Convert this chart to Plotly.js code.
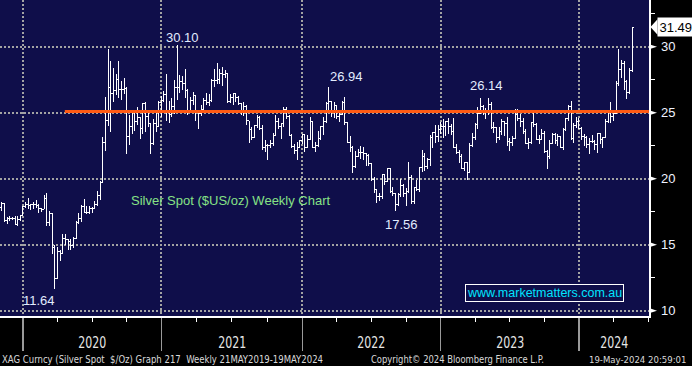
<!DOCTYPE html>
<html><head><meta charset="utf-8">
<script src="https://cdn.plot.ly/plotly-3.0.1.min.js"></script>
<style>html,body{margin:0;padding:0;background:#000;overflow:hidden}#chart{width:692px;height:366px}</style>
</head><body><div id="chart"></div>
<script>
// ---- Weekly XAG OHLC (week-ending Fridays, first bar 2019-11-01) ----
const firstWeekEnding = '2019-11-01';
const weekOpen = [
 17.85,18.10,16.80,17.00,16.95,16.95,16.55,16.90,17.20,
 17.90,18.05,17.98,18.03,18.05,18.00,17.75,17.70,18.50,16.65,17.35,14.80,12.45,14.50,14.30,15.45,15.40,15.25,14.95,15.50,16.65,17.00,17.90,17.45,17.45,17.75,17.75,18.05,18.70,19.75,22.75,24.40,26.90,26.45,26.65,27.55,26.75,26.75,26.80,23.20,23.95,25.00,24.30,24.65,23.80,25.70,24.75,24.15,22.65,24.20,23.95,25.80,
 25.90,26.40,25.20,24.90,25.45,26.90,26.90,27.35,27.25,26.65,25.20,25.90,26.30,25.10,24.95,25.25,25.90,25.75,25.90,27.45,27.45,27.50,28.00,27.90,28.00,25.85,26.15,26.45,26.15,25.70,25.20,25.50,24.40,23.75,23.10,24.00,24.65,23.80,22.35,22.55,22.50,22.70,23.30,24.35,23.95,24.15,25.25,24.70,23.30,22.45,22.15,22.40,22.90,
 23.35,22.40,23.00,24.30,22.40,22.55,23.05,23.95,24.30,25.70,25.85,25.05,25.55,24.70,24.90,25.75,24.25,22.75,22.35,20.90,21.70,22.00,22.00,21.90,21.75,21.15,19.95,19.20,18.65,18.65,20.30,19.80,20.80,19.05,18.90,18.05,18.80,19.45,18.85,19.00,20.10,18.25,19.35,19.20,20.85,21.70,20.95,21.45,23.15,23.50,23.20,23.75,
 23.95,23.95,24.30,23.95,23.60,22.40,22.00,21.65,20.80,21.20,20.50,22.50,23.15,24.10,24.95,25.45,25.20,25.00,25.60,23.90,23.85,23.10,23.60,24.35,24.15,22.80,22.75,23.05,24.90,24.55,24.30,23.60,22.70,22.75,24.25,24.10,23.00,23.00,23.45,22.10,21.70,22.70,23.35,22.90,23.20,22.35,23.75,24.55,25.50,23.05,24.05,24.30,
 23.80,23.20,23.15,22.60,22.85,22.85,22.60,23.40,22.95,23.10,24.35,25.20,24.70,24.95,27.25,28.30,28.70,27.40,26.55,28.20
];
const weekHigh = [
 18.20,18.15,17.10,17.20,17.10,17.15,17.15,17.25,17.95,
 18.20,18.55,18.10,18.20,18.40,18.10,17.80,18.80,18.95,17.55,17.40,14.95,14.80,14.60,15.80,15.80,15.45,15.40,15.60,16.80,17.40,18.00,18.50,17.95,17.95,17.85,18.30,19.10,19.85,23.15,26.20,29.86,28.90,28.40,27.90,28.90,27.40,27.60,26.95,24.80,25.20,25.10,25.40,24.70,25.75,25.80,24.95,24.20,24.50,24.95,25.90,26.30,
 26.65,27.95,25.90,26.15,27.45,30.10,27.85,27.80,28.30,26.80,26.20,26.60,26.35,25.20,25.60,26.10,26.50,26.40,27.55,28.35,28.75,28.30,28.45,28.20,28.00,26.45,26.50,26.45,26.30,25.75,25.85,25.60,24.40,23.95,24.10,24.85,24.75,24.05,22.90,22.60,22.95,23.45,24.80,24.60,24.15,25.40,25.45,24.85,23.40,22.60,22.75,22.95,23.40,
 23.40,23.30,24.70,24.40,22.80,23.65,24.00,24.70,25.85,26.94,25.90,25.80,25.60,25.00,25.90,26.20,24.30,23.20,22.45,22.10,22.25,22.50,22.40,21.95,21.90,21.20,20.15,19.25,18.95,20.35,20.35,20.85,20.85,19.35,18.95,18.90,20.00,19.60,19.30,21.25,20.30,19.40,19.90,20.90,22.20,21.95,21.60,23.35,23.55,24.05,24.10,24.30,
 24.55,24.35,24.60,24.15,24.60,22.60,22.20,21.90,21.30,21.25,22.70,23.50,24.20,25.40,26.10,25.60,25.35,26.14,25.80,24.30,23.90,23.95,24.55,24.40,24.65,23.05,23.20,25.25,25.25,24.90,24.60,23.80,23.05,24.30,25.00,24.20,23.35,23.75,23.60,22.15,22.90,23.50,23.45,23.40,23.25,23.85,24.60,25.55,25.90,24.25,24.70,24.60,
 23.95,23.40,23.20,23.10,23.35,22.90,23.45,23.50,23.15,24.50,25.20,25.80,25.00,27.40,29.80,29.00,28.90,27.50,28.40,31.49
];
const weekLow = [
 17.55,16.75,16.60,16.80,16.85,16.50,16.45,16.80,17.15,
 17.80,17.70,17.65,17.70,17.75,17.40,17.45,17.70,16.45,16.40,14.30,11.64,12.40,13.80,14.30,14.95,14.60,14.60,14.75,15.40,16.60,16.75,17.40,17.35,17.35,17.40,17.70,17.95,18.40,19.75,22.10,24.00,23.55,25.85,26.35,26.15,26.00,26.40,21.85,22.55,23.40,23.60,24.05,23.00,23.40,23.55,23.90,21.90,22.55,23.55,23.90,24.70,
 25.80,24.40,24.20,24.70,24.90,26.00,26.50,26.70,26.10,24.80,25.10,25.55,24.40,23.80,24.75,25.20,25.60,25.50,25.80,26.95,27.20,27.20,27.00,27.60,25.70,25.70,25.60,25.80,25.60,24.80,24.75,24.10,22.70,22.90,23.10,23.85,23.70,22.20,22.00,21.40,22.30,22.50,23.20,23.80,23.00,23.90,24.55,23.30,22.30,21.90,21.45,22.35,22.65,
 22.00,22.35,22.90,22.30,22.00,22.40,22.90,23.30,24.25,25.10,24.70,24.60,24.50,24.30,24.85,24.10,22.70,22.00,20.45,20.85,21.65,21.50,21.40,21.00,20.95,19.80,18.90,18.15,18.30,18.50,19.50,19.75,18.95,18.70,17.56,17.90,18.65,18.60,17.95,18.95,18.10,18.10,19.10,19.00,20.50,20.60,20.70,21.00,22.30,22.70,22.80,23.40,
 23.10,23.20,23.40,23.35,22.35,21.85,21.20,20.70,20.60,19.90,20.40,22.40,22.90,23.80,24.90,24.85,24.50,24.85,23.75,23.45,22.70,22.95,23.30,23.20,22.50,22.10,22.50,23.00,24.40,23.90,23.40,22.60,22.25,22.65,23.95,22.90,22.60,22.95,21.95,20.70,21.50,22.60,22.60,22.50,22.30,22.15,23.60,24.40,22.95,22.70,23.85,23.75,
 22.90,22.50,22.35,21.90,22.70,22.15,21.95,22.60,22.30,23.05,24.25,24.25,24.40,24.90,27.00,27.60,26.75,26.05,26.40,28.10
];
const weekClose = [
 18.10,16.80,17.00,16.95,16.95,16.55,16.90,17.20,17.90,
 18.05,17.98,18.03,18.05,18.00,17.75,17.70,18.50,16.65,17.35,14.80,12.45,14.50,14.30,15.45,15.40,15.25,14.95,15.50,16.65,17.00,17.90,17.45,17.45,17.75,17.75,18.05,18.70,19.75,22.75,24.40,26.90,26.45,26.65,27.55,26.75,26.75,26.80,23.20,23.95,25.00,24.30,24.65,23.80,25.70,24.75,24.15,22.65,24.20,23.95,25.80,25.90,
 26.40,25.20,24.90,25.45,26.90,26.90,27.35,27.25,26.65,25.20,25.90,26.30,25.10,24.95,25.25,25.90,25.75,25.90,27.45,27.45,27.50,28.00,27.90,28.00,25.85,26.15,26.45,26.15,25.70,25.20,25.50,24.40,23.75,23.10,24.00,24.65,23.80,22.35,22.55,22.50,22.70,23.30,24.35,23.95,24.15,25.25,24.70,23.30,22.45,22.15,22.40,22.90,23.35,
 22.40,23.00,24.30,22.40,22.55,23.05,23.95,24.30,25.70,25.85,25.05,25.55,24.70,24.90,25.75,24.25,22.75,22.35,20.90,21.70,22.00,22.00,21.90,21.75,21.15,19.95,19.20,18.65,18.65,20.30,19.80,20.80,19.05,18.90,18.05,18.80,19.45,18.85,19.00,20.10,18.25,19.35,19.20,20.85,21.70,20.95,21.45,23.15,23.50,23.20,23.75,23.95,
 23.95,24.30,23.95,23.60,22.40,22.00,21.65,20.80,21.20,20.50,22.50,23.15,24.10,24.95,25.45,25.20,25.00,25.60,23.90,23.85,23.10,23.60,24.35,24.15,22.80,22.75,23.05,24.90,24.55,24.30,23.60,22.70,22.75,24.25,24.10,23.00,23.00,23.45,22.10,21.70,22.70,23.35,22.90,23.20,22.35,23.75,24.55,25.50,23.05,24.05,24.30,23.80,
 23.20,23.15,22.60,22.85,22.85,22.60,23.40,22.95,23.10,24.35,25.20,24.70,24.95,27.25,28.30,28.70,27.40,26.55,28.20,31.45
];

// ---- axes / labels ----
const xRange = ['2019-10-27 12:00', '2024-06-30 05:00'];
const yRange = [9.6, 33.54];
const yearSeparators = ['2019-12-27', '2020-12-25', '2021-12-31', '2022-12-30', '2023-12-29'];
const yearLabels = ['2020', '2021', '2022', '2023', '2024'];
const yTicks = [10, 15, 20, 25, 30];
const yMinorTicks = [12.5, 17.5, 22.5, 27.5, 32.5];
const lastPrice = 31.49;

// resistance line
const resistanceLevel = 25.1;
const resistanceDates = ['2020-04-15', '2024-06-30'];

// callouts on extremes
const calloutDates = ['2020-03-20', '2021-02-05', '2022-03-11', '2022-09-02', '2023-05-05'];
const calloutValues = [11.64, 30.10, 26.94, 17.56, 26.14];
const calloutTexts = ['11.64', '30.10', '26.94', '17.56', '26.14'];

const chartTitle = 'Silver Spot ($US/oz) Weekly Chart';
const watermark = 'www.marketmatters.com.au';
const footLeft = 'XAG Curncy (Silver Spot\u00a0\u00a0$/Oz) Graph 217\u00a0\u00a0Weekly 21MAY2019-19MAY2024';
const footMid = 'Copyright\u00a9 2024 Bloomberg Finance L.P.';
const footRight = '19-May-2024 20:59:01';

// ---- build ----
const DAY = 86400000;
const iso = t => new Date(t).toISOString().slice(0, 19).replace('T', ' ');
const t0 = Date.parse(firstWeekEnding + 'T00:00:00Z');
const weekDates = weekClose.map((_, i) => iso(t0 + i * 7 * DAY));

const sepT = yearSeparators.map(d => Date.parse(d + 'T00:00:00Z'));
const endT = Date.parse(xRange[1].replace(' ', 'T') + ':00Z');
const quarterTicks = [];
for (let i = 0; i < sepT.length - 1; i++) {
  for (let k = 1; k <= 3; k++) quarterTicks.push(iso(sepT[i] + (sepT[i + 1] - sepT[i]) * k / 4));
}
for (let k = 1; k <= 2; k++) quarterTicks.push(iso(sepT[sepT.length - 1] + k * 91 * DAY));
const labelMid = sepT.map((a, i) => iso((a + (i < sepT.length - 1 ? sepT[i + 1] : endT)) / 2));

const PW = 649, PH = 316;
const pxY = (yRange[1] - yRange[0]) / PH; // value per pixel

const narrow = '"Liberation Sans Narrow", "DejaVu Sans Condensed", "Arial Narrow", "Liberation Sans", sans-serif';
const sans = '"Liberation Sans", Arial, sans-serif';

const traces = [
  {
    type: 'ohlc', x: weekDates, open: weekOpen, high: weekHigh, low: weekLow, close: weekClose,
    increasing: {line: {color: '#ffffff', width: 1}},
    decreasing: {line: {color: '#ffffff', width: 1}},
    tickwidth: 0.5, hoverinfo: 'skip', showlegend: false
  },
  {
    type: 'scatter', mode: 'lines', x: resistanceDates, y: [resistanceLevel, resistanceLevel],
    line: {color: '#ff5a14', width: 3}, hoverinfo: 'skip', showlegend: false
  }
];

const calloutShift = [[-16, -11], [5, 8], [18, 10.5], [6, -14], [-2, 12]];
const annotations = [];
calloutTexts.forEach((t, i) => annotations.push({
  xref: 'x', yref: 'y', x: calloutDates[i], y: calloutValues[i], text: t, showarrow: false,
  xanchor: 'center', yanchor: 'middle', xshift: calloutShift[i][0], yshift: calloutShift[i][1],
  font: {family: sans, size: 13, color: '#e2ecff'}
}));
yearLabels.forEach((t, i) => annotations.push({
  xref: 'x', yref: 'paper', x: labelMid[i], y: 0, yshift: -26.5, text: t, showarrow: false,
  xanchor: 'center', yanchor: 'middle', font: {family: narrow, size: 15, color: '#e6e6e6'}
}));
annotations.push({
  xref: 'paper', yref: 'paper', x: 129 / PW, y: 1 - 201 / PH, text: chartTitle, showarrow: false,
  xanchor: 'left', yanchor: 'middle', font: {family: sans, size: 13, color: '#86e286'}
});
annotations.push({
  xref: 'paper', yref: 'paper', x: 544 / PW, y: 1 - 292.5 / PH, text: watermark, showarrow: false,
  xanchor: 'center', yanchor: 'middle', bgcolor: '#0f0e4a', bordercolor: '#ffffff', borderwidth: 1, borderpad: 1,
  font: {family: sans, size: 12.5, color: '#00e4ff'}
});
annotations.push({
  xref: 'paper', yref: 'y', x: 1 + 8 / PW, y: lastPrice, text: lastPrice.toFixed(2), showarrow: false,
  xanchor: 'left', yanchor: 'middle', bgcolor: '#ffffff', borderpad: 1.5,
  font: {family: sans, size: 13, color: '#000000'}
});
[[footLeft, 2 / PW, 'left', 10], [footMid, 371 / PW, 'left', 10], [footRight, 688 / PW, 'right', 9.5]].forEach(f => annotations.push({
  xref: 'paper', yref: 'paper', x: f[1], y: 0, yshift: -43, text: f[0], showarrow: false,
  xanchor: f[2], yanchor: 'middle', font: {family: narrow, size: f[3], color: '#dadada'}
}));

const shapes = yTicks.map(v => ({
  type: 'path', xref: 'paper', yref: 'y',
  path: `M 1,${v - 2.6 * pxY} L 1,${v + 2.6 * pxY} L ${1 + 8 / PW},${v} Z`,
  fillcolor: '#ffffff', line: {width: 0}
}));
shapes.push({
  type: 'path', xref: 'paper', yref: 'y',
  path: `M ${1 + 1.5 / PW},${lastPrice} L ${1 + 8.5 / PW},${lastPrice + 7.8 * pxY} L ${1 + 8.5 / PW},${lastPrice - 7.8 * pxY} Z`,
  fillcolor: '#ffffff', line: {width: 0}
});

const grid = {showgrid: true, gridcolor: '#a3a3a3', gridwidth: 2, griddash: '2px,2px'};

const layout = {
  width: 692, height: 366,
  margin: {l: 0, r: 43, t: 0, b: 50, pad: 0},
  paper_bgcolor: '#000000', plot_bgcolor: '#0f0e4a',
  showlegend: false, dragmode: false,
  xaxis: Object.assign({
    type: 'date', range: xRange, fixedrange: true, rangeslider: {visible: false},
    tickmode: 'array', tickvals: yearSeparators, showticklabels: false,
    ticks: 'outside', ticklen: 33, tickwidth: 1.5, tickcolor: '#9a9a9a',
    showline: true, linecolor: '#ffffff', linewidth: 1.5, zeroline: false,
    minor: {tickmode: 'array', tickvals: quarterTicks, ticks: 'outside', ticklen: 4, tickwidth: 1, tickcolor: '#ffffff', showgrid: false}
  }, grid),
  yaxis: Object.assign({
    side: 'right', range: yRange, fixedrange: true,
    tickmode: 'array', tickvals: yTicks, ticktext: yTicks.map(String),
    ticks: 'outside', ticklen: 8, tickcolor: 'rgba(0,0,0,0)',
    tickfont: {family: sans, size: 13, color: '#eef3ff'},
    showline: true, linecolor: '#ffffff', linewidth: 1.5, zeroline: false,
    minor: {tickmode: 'array', tickvals: yMinorTicks, ticks: 'outside', ticklen: 4, tickwidth: 1, tickcolor: '#ffffff', showgrid: false}
  }, grid),
  annotations: annotations,
  shapes: shapes
};

// condensed widths of the Bloomberg footer/year texts (px): [text, width, anchor edge, edge x]
const condensed = [
  [footLeft, 321, 'left', 2], [footMid, 173, 'left', 371]
].concat(yearLabels.map(t => [t, 28, 'center', null]));

Plotly.newPlot('chart', traces, layout, {displayModeBar: false, staticPlot: true}).then(gd => {
  gd.querySelectorAll('.ohlclayer path, .trace.ohlc path').forEach(p => p.style.shapeRendering = 'crispEdges');
  const texts = Array.from(gd.querySelectorAll('text.annotation-text'));
  condensed.forEach(([txt, w, edge, ex]) => {
    const el = texts.find(e => e.textContent === txt);
    if (!el) return;
    const before = el.getBoundingClientRect();
    const cx = (before.left + before.right) / 2;
    el.setAttribute('textLength', w);
    el.setAttribute('lengthAdjust', 'spacingAndGlyphs');
    const r = el.getBoundingClientRect();
    let dx = 0;
    if (edge === 'left') dx = ex - r.left;
    else if (edge === 'right') dx = ex - r.right;
    else dx = cx - (r.left + r.right) / 2;
    el.setAttribute('x', parseFloat(el.getAttribute('x') || 0) + dx);
    const bg = el.parentNode && el.parentNode.querySelector('rect.bg');
    if (bg) {
      const bb = el.getBBox();
      bg.setAttribute('x', bb.x - 1);
      bg.setAttribute('width', bb.width + 2);
    }
  });
});
</script>
</body></html>
